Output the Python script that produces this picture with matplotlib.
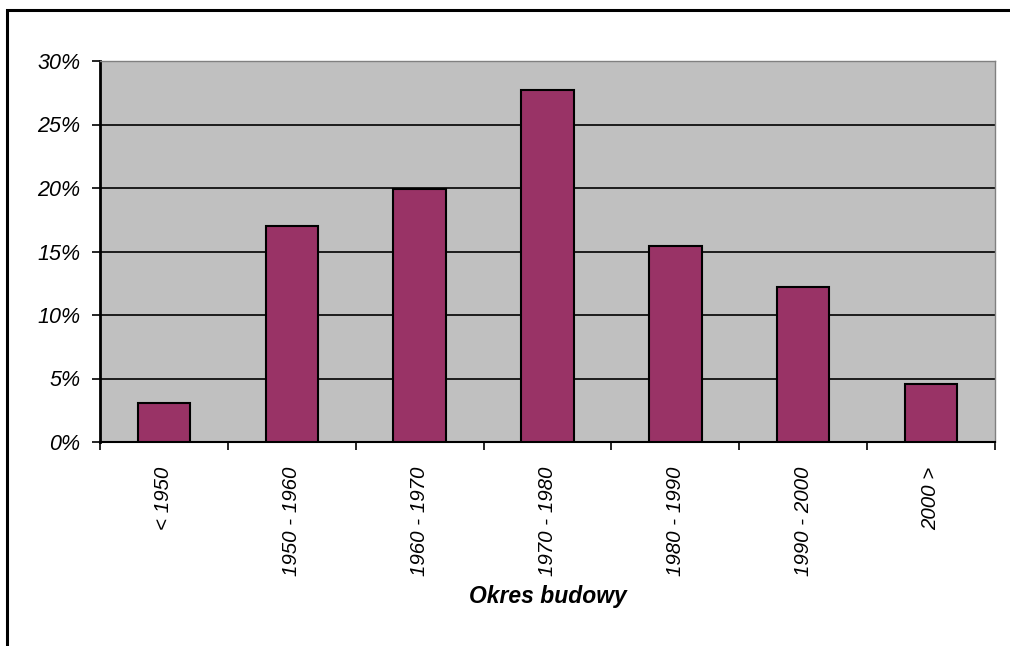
import matplotlib.pyplot as plt
from matplotlib.patches import Rectangle
from matplotlib.ticker import FuncFormatter, FixedLocator

categories = ['< 1950', '1950 - 1960', '1960 - 1970', '1970 - 1980',
              '1980 - 1990', '1990 - 2000', '2000 >']
values = [3.1, 17.0, 19.9, 27.7, 15.4, 12.2, 4.6]

plt.rcParams['font.family'] = ['Liberation Sans', 'DejaVu Sans']

fig = plt.figure(figsize=(10.1, 6.46), dpi=100)
W, H = 1010, 646
ax = fig.add_axes([100 / W, 1 - 442 / H, 895 / W, 381 / H])

# outer chart frame (right and bottom edges are cut off in the original)
fig.patches.append(Rectangle((7 / W, -0.1), 1.2, 1 - 10 / H + 0.1,
                             transform=fig.transFigure, fill=False,
                             edgecolor='black', linewidth=2.2))

ax.set_facecolor('#C0C0C0')
x = list(range(len(categories)))
ax.bar(x, values, width=0.41, color='#993366', edgecolor='black',
       linewidth=1.5, zorder=3)

ax.set_xlim(-0.5, len(categories) - 0.5)
ax.set_ylim(0, 30)
ax.set_yticks([0, 5, 10, 15, 20, 25, 30])
ax.yaxis.set_major_formatter(FuncFormatter(lambda v, p: '%d%%' % v))
ax.grid(axis='y', color='black', linewidth=1.2, zorder=1)

ax.set_xticks(x)
ax.set_xticklabels(categories, rotation=90, fontsize=14.8, style='italic')
ax.tick_params(axis='x', length=0, pad=18)
ax.xaxis.set_minor_locator(FixedLocator([i - 0.5 for i in range(len(categories) + 1)]))
ax.tick_params(axis='x', which='minor', length=6, width=1.2, direction='out')
ax.tick_params(axis='y', length=6, width=1.2, labelsize=15.5, pad=8)
for lab in ax.get_yticklabels():
    lab.set_style('italic')

for s in ['top', 'right']:
    ax.spines[s].set_color('#808080')
    ax.spines[s].set_linewidth(1.0)
ax.spines['left'].set_linewidth(2.0)
ax.spines['bottom'].set_linewidth(1.5)

fig.text(548 / W, 1 - 597 / H, 'Okres budowy', fontsize=16.5,
         fontweight='bold', style='italic', ha='center', va='center')

fig.savefig('out.png', dpi=100)
